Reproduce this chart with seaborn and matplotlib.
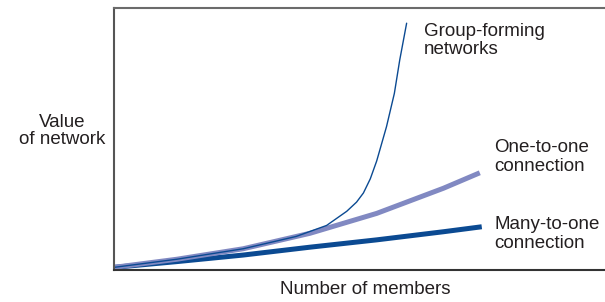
"""
Value of network vs number of members (Reed's law sketch)
"""

import pandas as pd
import numpy as np
import matplotlib
matplotlib.use("Agg")
import matplotlib.pyplot as plt
import seaborn as sns

# Data (arbitrary units, 0-100 on both axes)
many_x = [0, 12.8, 26.3, 39.9, 53.5, 67.1, 74.9]
many_y = [1.0, 3.2, 5.7, 8.7, 11.5, 14.6, 16.5]

one_x = [0, 12.8, 26.3, 39.9, 53.5, 67.1, 74.5]
one_y = [1.0, 4.1, 8.1, 14.0, 21.6, 31.2, 37.1]

group_x = [0, 12.8, 26.3, 37.1, 43.3, 47.4, 49.4, 50.8, 52.2, 53.5, 55.5, 57.1, 58.2, 59.6]
group_y = [1.0, 4.1, 8.1, 12.8, 17.0, 22.4, 25.9, 29.4, 34.8, 41.6, 54.7, 67.4, 80.2, 94.2]

labels = ["Group-forming\nnetworks", "One-to-one\nconnection", "Many-to-one\nconnection"]

DARK = "#0b4a92"
LIGHT = "#8189c2"
TEXT = "#231f20"

sns.set_style("white")
plt.rcParams["font.family"] = ["Liberation Sans", "DejaVu Sans"]

fig = plt.figure(figsize=(6.05, 3.02), dpi=100)
ax = fig.add_axes([0.1884, 0.106, 0.8116, 0.8675])

sns.lineplot(x=many_x, y=many_y, ax=ax, color=DARK, linewidth=3.6,
             sort=False, estimator=None, solid_capstyle="butt")
sns.lineplot(x=one_x, y=one_y, ax=ax, color=LIGHT, linewidth=3.6,
             sort=False, estimator=None, solid_capstyle="butt")
sns.lineplot(x=group_x, y=group_y, ax=ax, color=DARK, linewidth=1.0,
             sort=False, estimator=None)

ax.set_xlim(0, 100)
ax.set_ylim(0, 100)
ax.set_xticks([])
ax.set_yticks([])

ax.spines["right"].set_visible(False)
ax.spines["top"].set_color("#6b6b6b")
ax.spines["left"].set_color("#555555")
ax.spines["bottom"].set_color("#333333")
for s in ["top", "left", "bottom"]:
    ax.spines[s].set_linewidth(1.5)

fs = 13.5
ax.text(63.1, 94.3, labels[0], fontsize=fs, color=TEXT, va="top", ha="left",
        linespacing=1.12)
ax.text(77.4, 50.0, labels[1], fontsize=fs, color=TEXT, va="top", ha="left",
        linespacing=1.12)
ax.text(77.4, 20.6, labels[2], fontsize=fs, color=TEXT, va="top", ha="left",
        linespacing=1.12)

fig.text(62 / 605, 1 - 131 / 302, "Value\nof network", fontsize=fs, color=TEXT,
         ha="center", va="center", linespacing=1.05)
fig.text(365 / 605, 1 - 290 / 302, "Number of members", fontsize=fs,
         color=TEXT, ha="center", va="center")

fig.savefig("out.png", dpi=100)
